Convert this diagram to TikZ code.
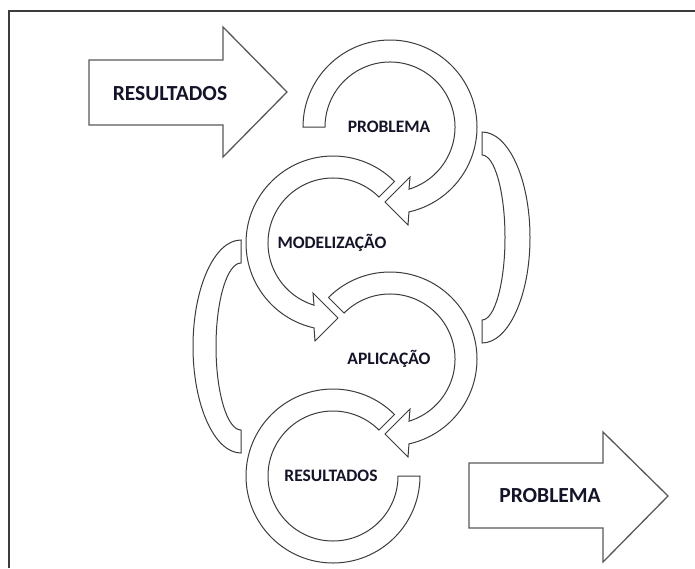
\documentclass[tikz,border=0pt]{standalone}
\usepackage{fontspec}
\setmainfont{Carlito}
\usetikzlibrary{calc}
\definecolor{lbltext}{RGB}{20,20,40}
\definecolor{edge}{RGB}{60,60,60}

\tikzset{
  band/.style={draw=edge, line width=1pt, fill=white, line join=miter},
  blockarrow/.style={draw=edge!85, line width=1.3pt, fill=white, line join=miter},
  ringlabel/.style={text=lbltext, font=\fontsize{17.5}{20}\selectfont\bfseries, inner sep=0pt},
  arrowlabel/.style={text=lbltext, font=\fontsize{21.5}{24}\selectfont\bfseries, inner sep=0pt}
}

\begin{document}
\begin{tikzpicture}[x=1pt,y=-1pt]
\useasboundingbox (0,0) rectangle (695,568);
\draw[edge, line width=1.5pt] (9,568) -- (9,11) -- (695,11);

% entrada e saida
\draw[blockarrow] (89,60) -- (223,60) -- (223,27) -- (287,92) -- (223,157) -- (223,125) -- (89,125) -- cycle;
\node[arrowlabel] (inres) at (170,94) {RESULTADOS};
\draw[blockarrow] (469,463) -- (603,463) -- (603,432) -- (668,496) -- (603,562) -- (603,528) -- (469,528) -- cycle;
\node[arrowlabel] (outprob) at (550,496) {PROBLEMA};

% voltas laterais
\draw[band] (482,132) arc[start angle=-90, end angle=90, x radius=48, y radius=105.5]
  -- (482,320) arc[start angle=90, end angle=-90, x radius=23, y radius=82.5] -- cycle;
\draw[band] (241,240) arc[start angle=-90, end angle=-270, x radius=48, y radius=106.5]
  -- (241,430) arc[start angle=90, end angle=270, x radius=25, y radius=83.5] -- cycle;

% aneis no sentido horario
\foreach \cx/\cy/\a in {390/127/180, 390/359/225} {
  \coordinate (c) at (\cx,\cy);
  \draw[band] ($(c)+(\a:87)$) arc[start angle=\a, end angle=437.4, radius=87]
    -- ($(c)+(18,98)$) -- ($(c)+(-5,75)$) -- ($(c)+(20,50)$)
    -- ($(c)+(433:65)$) arc[start angle=433, end angle=\a, radius=65] -- cycle;
}
% aneis no sentido anti-horario
\coordinate (m) at (333,243);
\draw[band] ($(m)+(-45:87)$) arc[start angle=-45, end angle=-257.4, radius=87]
  -- ($(m)+(-18,98)$) -- ($(m)+(5,75)$) -- ($(m)+(-20,50)$)
  -- ($(m)+(-253:65)$) arc[start angle=-253, end angle=-45, radius=65] -- cycle;
\coordinate (r) at (333,476);
\draw[band] ($(r)+(-45:87)$) arc[start angle=-45, end angle=-360, radius=87]
  -- ($(r)+(0:65)$) arc[start angle=-360, end angle=-45, radius=65] -- cycle;

\node[ringlabel] (prob) at (389,127) {PROBLEMA};
\node[ringlabel] (mod) at (332,243) {MODELIZAÇÃO};
\node[ringlabel] (apl) at (389,359) {APLICAÇÃO};
\node[ringlabel] (res) at (331,476) {RESULTADOS};
\end{tikzpicture}
\end{document}
